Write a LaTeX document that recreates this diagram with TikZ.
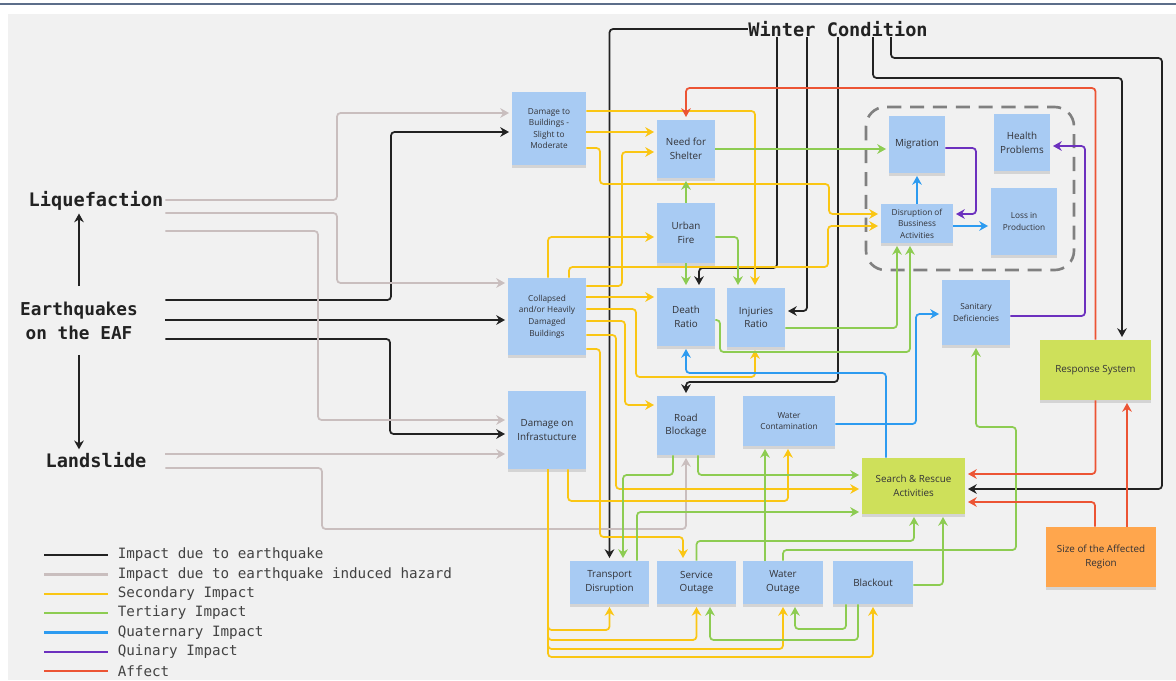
\documentclass[tikz,border=0pt]{standalone}
\usepackage{fontspec}
\setmainfont{Open Sans}
\newfontfamily\monofont{DejaVu Sans Mono}
\usetikzlibrary{arrows.meta,shadows}
\definecolor{paper}{RGB}{241,241,241}
\definecolor{topline}{RGB}{92,110,138}
\definecolor{noteblue}{RGB}{168,203,243}
\definecolor{notelime}{RGB}{206,224,90}
\definecolor{noteorange}{RGB}{255,166,77}
\definecolor{notetext}{RGB}{50,50,55}
\definecolor{eqblack}{RGB}{34,34,34}
\definecolor{hazgray}{RGB}{201,190,190}
\definecolor{secyellow}{RGB}{250,198,20}
\definecolor{tergreen}{RGB}{141,204,82}
\definecolor{quablue}{RGB}{45,155,240}
\definecolor{quipurple}{RGB}{108,48,190}
\definecolor{affred}{RGB}{236,84,52}
\definecolor{boxgray}{RGB}{128,128,128}

\begin{document}
\begin{tikzpicture}[x=0.02cm, y=-0.02cm,
  note/.style={fill=noteblue, text=notetext, align=center, inner sep=1pt,
    font=\fontsize{5.6}{7.8}\selectfont,
    drop shadow={shadow xshift=0pt, shadow yshift=-1.5pt, opacity=0.25}},
  smalltext/.style={font=\fontsize{4.7}{6.6}\selectfont},
  hazard/.style={text=eqblack, inner sep=0pt, align=center,
    font=\monofont\bfseries\fontsize{10.6}{13.6}\selectfont},
  link/.style={line width=1pt, rounded corners=2pt, shorten >=1.5pt,
    -{Stealth[length=5pt,width=5.5pt]}},
  eqlink/.style={link, draw=eqblack},
  hazlink/.style={link, draw=hazgray},
  seclink/.style={link, draw=secyellow},
  terlink/.style={link, draw=tergreen},
  qualink/.style={link, draw=quablue},
  quilink/.style={link, draw=quipurple},
  afflink/.style={link, draw=affred},
  groupbox/.style={draw=boxgray, line width=1.5pt, rounded corners=11pt,
    dash pattern=on 8pt off 5pt},
  legline/.style={line width=1.2pt},
  legtext/.style={right=5pt, inner sep=0pt, text=eqblack!85,
    font=\monofont\fontsize{8.1}{10}\selectfont}]
\useasboundingbox (0,0) rectangle (1176,680);
\fill[white] (0,0) rectangle (1176,680);
\fill[paper] (8,14) rectangle (1176,680);
\draw[topline, line width=1.2pt] (0,4) -- (1176,4);
\draw[groupbox] (866,107) rectangle (1074,270);

\node[hazard, minimum width=2.76cm] (liq) at (96,201) {Liquefaction};
\node[hazard, minimum width=3.44cm, minimum height=1.36cm, font=\monofont\bfseries\fontsize{10.1}{13.6}\selectfont] (eq) at (79,320.5) {Earthquakes\\on the EAF};
\node[hazard, minimum width=2.76cm] (ls) at (96,460) {Landslide};
\node[hazard] (wc) at (838,29) {Winter Condition};

\node[note, smalltext, minimum width=1.48cm, minimum height=1.46cm] (dslight) at (549,128.5) {Damage to\\Buildings -\\Slight to\\Moderate};
\node[note, smalltext, minimum width=1.56cm, minimum height=1.54cm] (collapsed) at (547,316.5) {Collapsed\\and/or Heavily\\Damaged\\Buildings};
\node[note, minimum width=1.56cm, minimum height=1.56cm] (dinfra) at (547,430) {Damage on\\Infrastucture};
\node[note, minimum width=1.16cm, minimum height=1.16cm] (shelter) at (686,149) {Need for\\Shelter};
\node[note, minimum width=1.16cm, minimum height=1.2cm] (fire) at (686,233) {Urban\\Fire};
\node[note, minimum width=1.16cm, minimum height=1.16cm] (death) at (686,317) {Death\\Ratio};
\node[note, minimum width=1.16cm, minimum height=1.18cm] (injuries) at (756,317.5) {Injuries\\Ratio};
\node[note, minimum width=1.16cm, minimum height=1.18cm] (road) at (686,425.5) {Road\\Blockage};
\node[note, smalltext, minimum width=1.84cm, minimum height=1cm] (watercont) at (789,421) {Water\\Contamination};
\node[note, minimum width=1.12cm, minimum height=1.14cm] (migration) at (917,144.5) {Migration};
\node[note, minimum width=1.12cm, minimum height=1.14cm] (health) at (1022,142.5) {Health\\Problems};
\node[note, smalltext, minimum width=1.44cm, minimum height=0.78cm] (disruption) at (917,223.5) {Disruption of\\Bussiness\\Activities};
\node[note, smalltext, minimum width=1.32cm, minimum height=1.34cm] (loss) at (1024,221.5) {Loss in\\Production};
\node[note, smalltext, minimum width=1.36cm, minimum height=1.3cm] (sanitary) at (976,312.5) {Sanitary\\Deficiencies};
\node[note, minimum width=1.58cm, minimum height=0.86cm] (transport) at (609.5,582.5) {Transport\\Disruption};
\node[note, minimum width=1.58cm, minimum height=0.86cm] (service) at (696.5,582.5) {Service\\Outage};
\node[note, minimum width=1.6cm, minimum height=0.86cm] (waterout) at (783,582.5) {Water\\Outage};
\node[note, minimum width=1.6cm, minimum height=0.86cm] (blackout) at (873,582.5) {Blackout};
\node[note, fill=notelime, minimum width=2.06cm, minimum height=1.12cm] (sar) at (913.5,486) {Search \& Rescue\\Activities};
\node[note, fill=notelime, minimum width=2.22cm, minimum height=1.2cm] (response) at (1095.5,370) {Response System};
\node[note, fill=noteorange, minimum width=2.2cm, minimum height=1.2cm] (size) at (1101,557) {Size of the Affected\\Region};

\draw[eqlink] (eq.north) -- (eq.north |- liq.south);
\draw[eqlink] (eq.south) -- (eq.south |- ls.north);
\draw[eqlink] (eq.east |- 0,300) -| (391,132) -- (dslight.west |- 0,132);
\draw[eqlink] (eq.east |- 0,320) -- (collapsed.west |- 0,320);
\draw[eqlink] (eq.east |- 0,339) -| (390,434) -- (dinfra.west |- 0,434);
\draw[eqlink] (wc.west) -| (transport.north);
\draw[eqlink] (wc.south -| 777,0) |- (699,268) -- (death.north -| 699,0);
\draw[eqlink] (wc.south -| 807,0) |- (injuries.east |- 0,311);
\draw[eqlink] (wc.south -| 838,0) |- (686,382) -- (road.north);
\draw[eqlink] (wc.south -| 873,0) |- (1122,78) -- (response.north -| 1122,0);
\draw[eqlink] (wc.south -| 891,0) |- (1162,58) |- (sar.east |- 0,489);

\draw[hazlink] (liq.east |- 0,200) -| (337,113) -- (dslight.west |- 0,113);
\draw[hazlink] (liq.east |- 0,213) -| (337,283) -- (collapsed.west |- 0,283);
\draw[hazlink] (liq.east |- 0,231) -| (318,420) -- (dinfra.west |- 0,420);
\draw[hazlink] (ls.east |- 0,454) -- (dinfra.west |- 0,454);
\draw[hazlink] (ls.east |- 0,468) -| (322,529) -| (road.south);

\draw[seclink] (dslight.east |- 0,111) -| (injuries.north -| 755,0);
\draw[seclink] (dslight.east |- 0,132) -- (shelter.west |- 0,132);
\draw[seclink] (dslight.east |- 0,148) -| (600,184) -| (829,214) -- (disruption.west |- 0,214);
\draw[seclink] (collapsed.north -| 548,0) |- (fire.west |- 0,237);
\draw[seclink] (collapsed.north -| 569,0) |- (828,267) |- (disruption.west |- 0,226);
\draw[seclink] (collapsed.east |- 0,286) -| (622,152) -- (shelter.west |- 0,152);
\draw[seclink] (collapsed.east |- 0,297) -- (death.west |- 0,297);
\draw[seclink] (collapsed.east |- 0,309) -| (636,377) -| (injuries.south -| 755,0);
\draw[seclink] (collapsed.east |- 0,321) -| (625,405) -- (road.west |- 0,405);
\draw[seclink] (collapsed.east |- 0,335) -| (616,489) -- (sar.west |- 0,489);
\draw[seclink] (collapsed.east |- 0,349) -| (600,537) -| (service.north -| 683,0);
\draw[seclink] (dinfra.south -| 568,0) |- (788,501) -- (watercont.south -| 788,0);
\draw[seclink] (dinfra.south -| 548,0) |- (609.5,630) -- (transport.south);
\draw[seclink] (dinfra.south -| 548,0) |- (696.5,640) -- (service.south);
\draw[seclink] (dinfra.south -| 548,0) |- (783,649) -- (waterout.south);
\draw[seclink] (dinfra.south -| 548,0) |- (873,657) -- (blackout.south);

\draw[terlink] (fire.north) -- (shelter.south);
\draw[terlink] (fire.south) -- (death.north);
\draw[terlink] (fire.east |- 0,237) -| (injuries.north -| 738,0);
\draw[terlink] (shelter.east) -- (migration.west |- shelter.east);
\draw[terlink] (injuries.east |- 0,328) -| (disruption.south -| 897,0);
\draw[terlink] (death.east |- 0,320) -| (720,352) -| (disruption.south -| 910,0);
\draw[terlink] (road.south -| 673,0) |- (623,475) -- (transport.north -| 623,0);
\draw[terlink] (road.south -| 698,0) |- (sar.west |- 0,475);
\draw[terlink] (transport.north -| 637,0) |- (sar.west |- 0,512);
\draw[terlink] (service.north) |- (914,541) -- (sar.south -| 914,0);
\draw[terlink] (waterout.north -| 765,0) -- (watercont.south -| 765,0);
\draw[terlink] (waterout.north) |- (1016,550) |- (976,427) -- (sanitary.south);
\draw[terlink] (blackout.east |- 0,585) -| (sar.south -| 943,0);
\draw[terlink] (blackout.south -| 846,0) |- (795,629) -- (waterout.south -| 795,0);
\draw[terlink] (blackout.south -| 858,0) |- (710,640) -- (service.south -| 710,0);

\draw[qualink] (disruption.north) -- (migration.south);
\draw[qualink] (disruption.east |- 0,226) -- (loss.west |- 0,226);
\draw[qualink] (sar.north -| 886,0) |- (686,373) -- (death.south);
\draw[qualink] (watercont.east |- 0,424) -| (916,314) -- (sanitary.west |- 0,314);

\draw[quilink] (migration.east |- 0,148) -| (976,214) -- (disruption.east |- 0,214);
\draw[quilink] (sanitary.east |- 0,316) -| (1085,146) -- (health.east |- 0,146);

\draw[afflink] (response.north) |- (686,88) -- (shelter.north);
\draw[afflink] (response.south) |- (sar.east |- 0,474);
\draw[afflink] (size.north -| 1095,0) |- (sar.east |- 0,502);
\draw[afflink] (size.north -| 1127,0) -- (response.south -| 1127,0);

\draw[legline, eqblack] (44,555) -- (108,555) node[legtext] (lg1) {Impact due to earthquake};
\draw[legline, hazgray] (44,574.5) -- (108,574.5) node[legtext] (lg2) {Impact due to earthquake induced hazard};
\draw[legline, secyellow] (44,594) -- (108,594) node[legtext] (lg3) {Secondary Impact};
\draw[legline, tergreen] (44,613) -- (108,613) node[legtext] (lg4) {Tertiary Impact};
\draw[legline, quablue] (44,632.5) -- (108,632.5) node[legtext] (lg5) {Quaternary Impact};
\draw[legline, quipurple] (44,652) -- (108,652) node[legtext] (lg6) {Quinary Impact};
\draw[legline, affred] (44,671) -- (108,671) node[legtext] (lg7) {Affect};
\end{tikzpicture}
\end{document}
